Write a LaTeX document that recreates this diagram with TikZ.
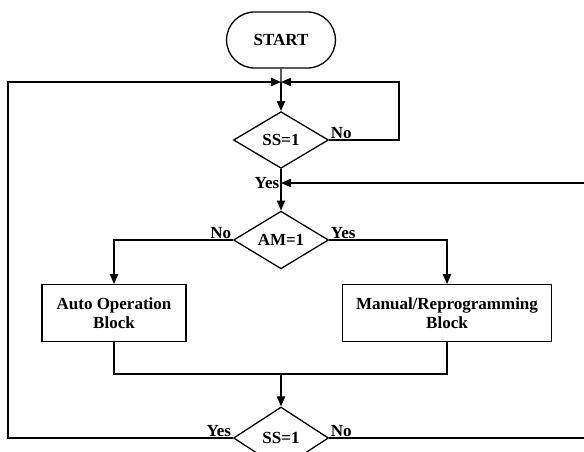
\documentclass[tikz,border=0pt]{standalone}
\usepackage{fontspec}
\setmainfont{Liberation Serif}
\usetikzlibrary{shapes.geometric, shapes.misc, arrows.meta}

\begin{document}
\begin{tikzpicture}[x=0.03cm, y=-0.03cm, line width=1.1pt,
        every node/.style={font=\bfseries\fontsize{14.5}{16.5}\selectfont},
        terminal/.style={draw, rounded rectangle, minimum width=3.5cm, minimum height=1.68cm},
        decision/.style={draw, diamond, inner sep=0pt, minimum width=2.85cm, minimum height=1.7cm},
        block/.style={draw, rectangle, align=center, minimum height=1.7cm},
        arr/.style={-{Triangle[length=3mm, width=2.5mm]}},
        lbl/.style={inner sep=1pt}]
    \useasboundingbox (0,0) rectangle (584,452);
    \clip (0,0) rectangle (584,452);
    % nodes
    \node[terminal] (start) at (281,40) {START};
    \coordinate (j1) at (281,82);
    \node[decision] (ss1) at (281,140) {SS=1};
    \coordinate (j2) at (281,183);
    \node[decision] (am) at (281,240) {AM=1};
    \node[block, minimum width=4.32cm] (auto) at (114,313) {Auto Operation\\Block};
    \node[block, minimum width=6.27cm] (manual) at (447,313) {Manual/Reprogramming\\Block};
    \coordinate (j3) at (281,374);
    \node[decision, minimum height=1.86cm] (ss2) at (281,438) {SS=1};
    % connectors
    \draw (start) -- (j1);
    \draw[arr] (j1) -- (ss1);
    \draw[arr] (ss1.east) -- (399,140) |- (j1);
    \draw (ss1.south) -- (j2);
    \draw[arr] (j2) -- (am);
    \draw[arr] (am.west) -| (auto.north);
    \draw[arr] (am.east) -| (manual.north);
    \draw (auto.south) |- (j3);
    \draw (manual.south) |- (j3);
    \draw[arr] (j3) -- (ss2);
    \draw[arr] (ss2.west) -- (8,438) |- (j1);
    \draw[arr] (ss2.east) -- (600,438) |- (j2);
    % labels
    \node[lbl, anchor=south west] at (ss1.east) {No};
    \node[lbl, anchor=east] at (j2) {Yes};
    \node[lbl, anchor=south east] at (am.west) {No};
    \node[lbl, anchor=south west] at (am.east) {Yes};
    \node[lbl, anchor=south east] at (ss2.west) {Yes};
    \node[lbl, anchor=south west] at (ss2.east) {No};
\end{tikzpicture}
\end{document}
